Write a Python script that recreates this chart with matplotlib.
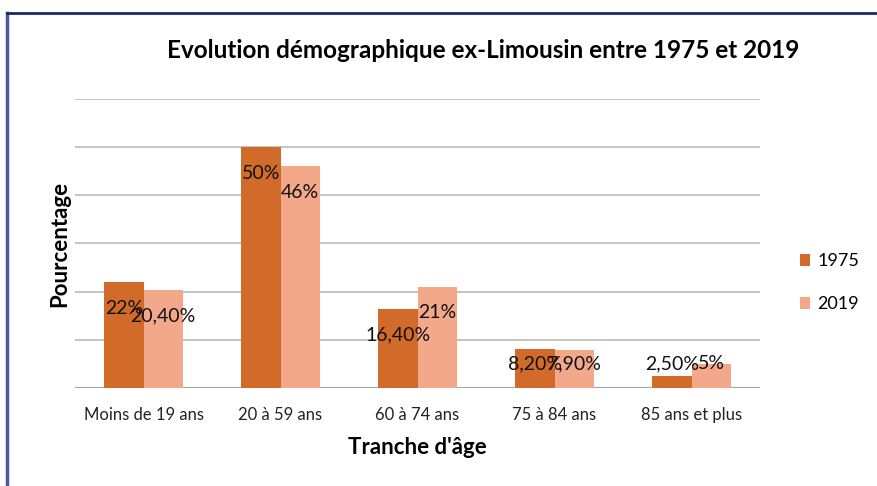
import numpy as np
import matplotlib.pyplot as plt
from matplotlib.lines import Line2D

plt.rcParams['font.family'] = ['Lato', 'DejaVu Sans']

categories = ['Moins de 19 ans', '20 à 59 ans', '60 à 74 ans', '75 à 84 ans', '85 ans et plus']
vals_1975 = [22.0, 50.0, 16.4, 8.2, 2.5]
vals_2019 = [20.4, 46.0, 21.0, 7.9, 5.0]
labels_1975 = ['22%', '50%', '16,40%', '8,20%', '2,50%']
labels_2019 = ['20,40%', '46%', '21%', '7,90%', '5%']

c1975 = '#D26B29'
c2019 = '#F3A88A'

fig = plt.figure(figsize=(8.77, 4.86), dpi=100)
ax = fig.add_axes([75 / 877, 98 / 486, 685 / 877, 289 / 486])

x = np.arange(len(categories))
w = 0.285
ax.bar(x - w / 2, vals_1975, w, color=c1975, label='1975', zorder=3)
ax.bar(x + w / 2, vals_2019, w, color=c2019, label='2019', zorder=3)

for xi, v, t in zip(x - w / 2, vals_1975, labels_1975):
    ax.text(xi, max(v - 5.4, 5.0), t, ha='center', va='center', fontsize=14, color='#111111', zorder=4)
for xi, v, t in zip(x + w / 2, vals_2019, labels_2019):
    ax.text(xi, max(v - 5.4, 5.0), t, ha='center', va='center', fontsize=14, color='#111111', zorder=4)

ax.set_xlim(-0.5, 4.5)
ax.set_ylim(0, 60)
ax.set_yticks(np.arange(0, 61, 10))
ax.set_yticklabels([])
ax.tick_params(axis='y', length=0)
ax.tick_params(axis='x', length=0, labelsize=12, pad=14, colors='#222222')
ax.set_xticks(x)
ax.set_xticklabels(categories)
ax.grid(axis='y', color='#BFBFBF', lw=1.3, zorder=0)
for s in ax.spines.values():
    s.set_visible(False)
ax.axhline(0, color='#A6A6A6', lw=1.5, zorder=2)

ax.set_ylabel('Pourcentage', fontsize=16, fontweight='bold', labelpad=0)
ax.set_xlabel("Tranche d'âge", fontsize=16, fontweight='bold', labelpad=10)
fig.text(483 / 877, 1 - 51 / 486, 'Evolution démographique ex-Limousin entre 1975 et 2019',
         ha='center', va='center', fontsize=17.5, fontweight='bold')

ax.legend(loc='center left', bbox_to_anchor=(1.034, 0.364), frameon=False, fontsize=13,
          handlelength=0.6, handleheight=0.6, handletextpad=0.4, labelspacing=1.5)

# cadre
fig.add_artist(Line2D([7 / 877, 7 / 877], [0, 1 - 13 / 486], color='#4A5A9A', lw=2.5))
fig.add_artist(Line2D([7 / 877, 1], [1 - 13 / 486, 1 - 13 / 486], color='#1F2A5A', lw=2))

fig.savefig('out.png', dpi=100)
